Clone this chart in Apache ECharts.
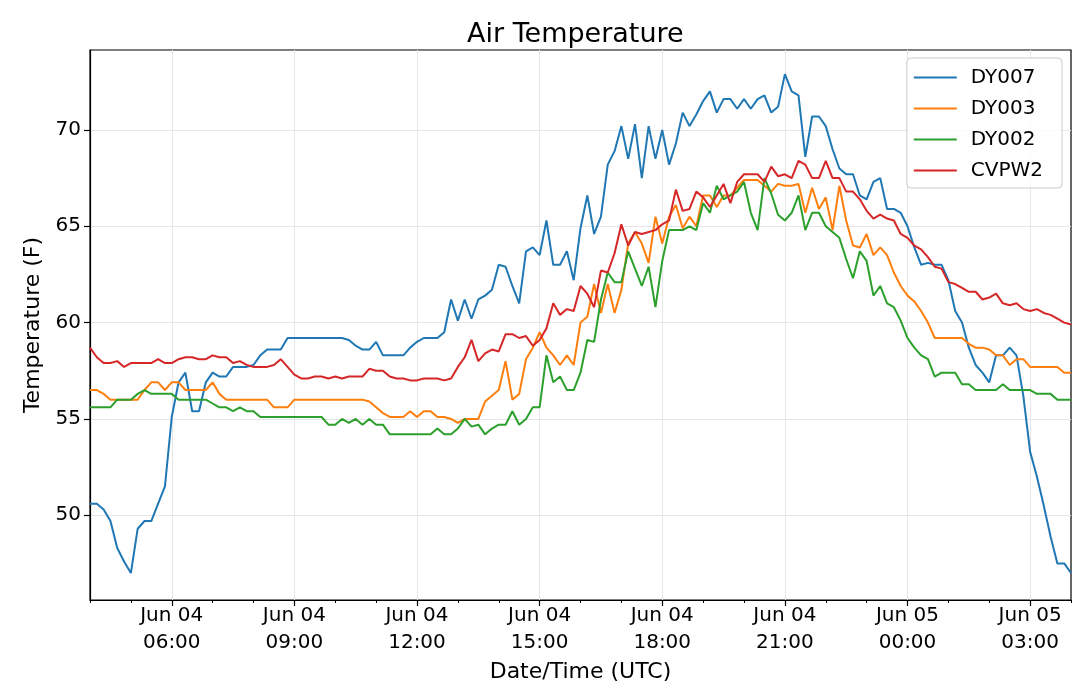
<!DOCTYPE html>
<html>
<head>
<meta charset="utf-8">
<title>Air Temperature</title>
<script src="https://cdn.jsdelivr.net/npm/echarts@6.0.0/dist/echarts.min.js"></script>
<style>
    html, body { margin: 0; padding: 0; background: #fff; }
    #chart-temp { width: 1080px; height: 696px; }
</style>
</head>
<body>
<div id="chart-temp"></div>
<script>
// samples every 10 minutes, first one at Jun 04 04:00 UTC (hours counted from Jun 04 00:00)
var startHour = 4;
var stepHours = 10 / 60;

var dy007 = [
    50.6, 50.6, 50.3, 49.7, 48.3, 47.6, 47.0, 49.3, 49.7, 49.7, 50.6, 51.5,
    55.1, 56.9, 57.4, 55.4, 55.4, 56.9, 57.4, 57.2, 57.2, 57.7, 57.7, 57.7,
    57.8, 58.3, 58.6, 58.6, 58.6, 59.2, 59.2, 59.2, 59.2, 59.2, 59.2, 59.2,
    59.2, 59.2, 59.1, 58.8, 58.6, 58.6, 59.0, 58.3, 58.3, 58.3, 58.3, 58.7,
    59.0, 59.2, 59.2, 59.2, 59.5, 61.2, 60.1, 61.2, 60.2, 61.2, 61.4, 61.7,
    63.0, 62.9, 61.9, 61.0, 63.7, 63.9, 63.5, 65.3, 63.0, 63.0, 63.7, 62.2,
    64.9, 66.6, 64.6, 65.5, 68.2, 68.9, 70.2, 68.5, 70.3, 67.5, 70.2, 68.5,
    70.0, 68.2, 69.3, 70.9, 70.2, 70.8, 71.5, 72.0, 70.9, 71.6, 71.6, 71.1,
    71.6, 71.1, 71.6, 71.8, 70.9, 71.2, 72.9, 72.0, 71.8, 68.6, 70.7, 70.7,
    70.2, 69.0, 68.0, 67.7, 67.7, 66.6, 66.4, 67.3, 67.5, 65.9, 65.9, 65.7,
    65.0, 63.9, 63.0, 63.1, 63.0, 63.0, 62.2, 60.6, 60.0, 58.7, 57.8, 57.4,
    56.9, 58.3, 58.3, 58.7, 58.3, 56.2, 53.3, 52.0, 50.5, 48.9, 47.5, 47.5,
    47.0
];
var dy003 = [
    56.5, 56.5, 56.3, 56.0, 56.0, 56.0, 56.0, 56.0, 56.5, 56.9, 56.9, 56.5,
    56.9, 56.9, 56.5, 56.5, 56.5, 56.5, 56.9, 56.3, 56.0, 56.0, 56.0, 56.0,
    56.0, 56.0, 56.0, 55.6, 55.6, 55.6, 56.0, 56.0, 56.0, 56.0, 56.0, 56.0,
    56.0, 56.0, 56.0, 56.0, 56.0, 55.9, 55.6, 55.3, 55.1, 55.1, 55.1, 55.4,
    55.1, 55.4, 55.4, 55.1, 55.1, 55.0, 54.8, 55.0, 55.0, 55.0, 55.9, 56.2,
    56.5, 58.0, 56.0, 56.3, 58.1, 58.7, 59.5, 58.7, 58.3, 57.8, 58.3, 57.8,
    60.0, 60.3, 62.0, 60.5, 62.0, 60.5, 61.7, 64.1, 64.7, 64.1, 63.1, 65.5,
    64.1, 65.5, 66.1, 64.9, 65.5, 65.0, 66.6, 66.6, 66.0, 66.6, 66.6, 67.0,
    67.4, 67.4, 67.4, 67.1, 66.8, 67.2, 67.1, 67.1, 67.2, 65.7, 67.0, 65.9,
    66.5, 64.8, 67.1, 65.3, 64.0, 63.9, 64.6, 63.5, 63.9, 63.5, 62.6, 61.9,
    61.4, 61.1, 60.6, 60.0, 59.2, 59.2, 59.2, 59.2, 59.2, 58.9, 58.7, 58.7,
    58.6, 58.3, 58.3, 57.8, 58.1, 58.1, 57.7, 57.7, 57.7, 57.7, 57.7, 57.4,
    57.4
];
var dy002 = [
    55.6, 55.6, 55.6, 55.6, 56.0, 56.0, 56.0, 56.3, 56.5, 56.3, 56.3, 56.3,
    56.3, 56.0, 56.0, 56.0, 56.0, 56.0, 55.8, 55.6, 55.6, 55.4, 55.6, 55.4,
    55.4, 55.1, 55.1, 55.1, 55.1, 55.1, 55.1, 55.1, 55.1, 55.1, 55.1, 54.7,
    54.7, 55.0, 54.8, 55.0, 54.7, 55.0, 54.7, 54.7, 54.2, 54.2, 54.2, 54.2,
    54.2, 54.2, 54.2, 54.5, 54.2, 54.2, 54.5, 55.0, 54.6, 54.7, 54.2, 54.5,
    54.7, 54.7, 55.4, 54.7, 55.0, 55.6, 55.6, 58.3, 56.9, 57.2, 56.5, 56.5,
    57.4, 59.1, 59.0, 61.2, 62.6, 62.1, 62.1, 63.7, 62.8, 61.9, 62.9, 60.8,
    63.2, 64.8, 64.8, 64.8, 65.0, 64.8, 66.2, 65.7, 67.1, 66.4, 66.6, 66.8,
    67.3, 65.7, 64.8, 67.5, 66.7, 65.6, 65.3, 65.7, 66.6, 64.8, 65.7, 65.7,
    65.0, 64.7, 64.4, 63.3, 62.3, 63.7, 63.2, 61.4, 61.9, 61.0, 60.8, 60.1,
    59.2, 58.7, 58.3, 58.1, 57.2, 57.4, 57.4, 57.4, 56.8, 56.8, 56.5, 56.5,
    56.5, 56.5, 56.8, 56.5, 56.5, 56.5, 56.5, 56.3, 56.3, 56.3, 56.0, 56.0,
    56.0
];
var cvpw2 = [
    58.7, 58.2, 57.9, 57.9, 58.0, 57.7, 57.9, 57.9, 57.9, 57.9, 58.1, 57.9,
    57.9, 58.1, 58.2, 58.2, 58.1, 58.1, 58.3, 58.2, 58.2, 57.9, 58.0, 57.8,
    57.7, 57.7, 57.7, 57.8, 58.1, 57.7, 57.3, 57.1, 57.1, 57.2, 57.2, 57.1,
    57.2, 57.1, 57.2, 57.2, 57.2, 57.6, 57.5, 57.5, 57.2, 57.1, 57.1, 57.0,
    57.0, 57.1, 57.1, 57.1, 57.0, 57.1, 57.7, 58.2, 59.1, 58.0, 58.4, 58.6,
    58.5, 59.4, 59.4, 59.2, 59.3, 58.8, 59.1, 59.7, 61.0, 60.4, 60.7, 60.6,
    61.9, 61.5, 60.8, 62.7, 62.6, 63.6, 65.1, 64.0, 64.7, 64.6, 64.7, 64.8,
    65.1, 65.3, 66.9, 65.8, 65.9, 66.8, 66.5, 66.0, 66.6, 67.2, 66.2, 67.3,
    67.7, 67.7, 67.7, 67.3, 68.1, 67.6, 67.7, 67.5, 68.4, 68.2, 67.5, 67.5,
    68.4, 67.5, 67.5, 66.8, 66.8, 66.4, 65.8, 65.4, 65.6, 65.4, 65.3, 64.6,
    64.4, 64.0, 63.8, 63.4, 62.9, 62.8, 62.1, 62.0, 61.8, 61.6, 61.6, 61.2,
    61.3, 61.5, 61.0, 60.9, 61.0, 60.7, 60.6, 60.7, 60.5, 60.4, 60.2, 60.0,
    59.9
];

var seriesNames = ['DY007', 'DY003', 'DY002', 'CVPW2'];
var seriesColors = ['#1f77b4', '#ff7f0e', '#2ca02c', '#d62728'];
var xTicks = [6, 9, 12, 15, 18, 21, 24, 27];
var yTicks = [50, 55, 60, 65, 70];

var fontName = 'DejaVu Sans';

function toPoints(values) {
    var pts = [];
    for (var i = 0; i < values.length; i++) {
        pts.push([startHour + i * stepHours, values[i]]);
    }
    return pts;
}

function timeLabel(v) {
    var h = Math.round(v);
    var day = h >= 24 ? 'Jun 05' : 'Jun 04';
    h = h % 24;
    return day + '\n' + (h < 10 ? '0' + h : h) + ':00';
}

var chart = echarts.init(document.getElementById('chart-temp'), null, { renderer: 'canvas' });

var allValues = [dy007, dy003, dy002, cvpw2];
var series = [];
for (var s = 0; s < allValues.length; s++) {
    series.push({
        name: seriesNames[s],
        type: 'line',
        xAxisIndex: 0,
        data: toPoints(allValues[s]),
        symbol: 'none',
        showSymbol: false,
        lineStyle: { color: seriesColors[s], width: 2 },
        itemStyle: { color: seriesColors[s] }
    });
}

var option = {
    animation: false,
    backgroundColor: '#fff',
    textStyle: { fontFamily: fontName, color: '#000' },
    title: {
        text: 'Air Temperature',
        left: 467,
        top: 19,
        padding: 0,
        textStyle: { fontFamily: fontName, fontSize: 27, fontWeight: 'normal', color: '#000', lineHeight: 32 }
    },
    legend: {
        data: seriesNames,
        orient: 'vertical',
        right: 18,
        top: 58,
        icon: 'rect',
        itemWidth: 43,
        itemHeight: 2,
        itemGap: 10,
        padding: [9, 19, 7, 7],
        backgroundColor: 'rgba(255,255,255,0.8)',
        borderColor: '#cccccc',
        borderWidth: 1,
        borderRadius: 4,
        textStyle: { fontFamily: fontName, fontSize: 20, color: '#000', lineHeight: 21, padding: [0, 0, 0, 9] }
    },
    grid: {
        left: 90,
        right: 9,
        top: 50,
        bottom: 96,
        show: true,
        borderColor: '#000',
        borderWidth: 1.2,
        backgroundColor: 'transparent'
    },
    xAxis: [{
        type: 'value',
        min: 4,
        max: 28,
        name: 'Date/Time (UTC)',
        nameLocation: 'middle',
        nameGap: 49,
        nameTextStyle: { fontFamily: fontName, fontSize: 22, color: '#000' },
        axisLine: { show: true, onZero: false, lineStyle: { color: '#000', width: 1.2 } },
        axisTick: { show: true, length: 6, customValues: xTicks, lineStyle: { color: '#000', width: 1.2 } },
        axisLabel: {
            customValues: xTicks,
            formatter: timeLabel,
            fontFamily: fontName,
            fontSize: 20,
            lineHeight: 27,
            margin: 2,
            color: '#000'
        },
        splitLine: { show: true, lineStyle: { color: '#e6e6e6', width: 1 } }
    }, {
        // hourly minor ticks
        type: 'value',
        min: 4,
        max: 28,
        interval: 1,
        position: 'bottom',
        axisLine: { show: false },
        axisTick: { show: true, length: 3, lineStyle: { color: '#000', width: 1 } },
        axisLabel: { show: false },
        splitLine: { show: false }
    }],
    yAxis: {
        type: 'value',
        min: 45.6,
        max: 74.15,
        name: 'Temperature (F)',
        nameLocation: 'middle',
        nameGap: 44,
        nameTextStyle: { fontFamily: fontName, fontSize: 22, color: '#000' },
        axisLine: { show: true, lineStyle: { color: '#000', width: 1.2 } },
        axisTick: { show: true, length: 6, customValues: yTicks, lineStyle: { color: '#000', width: 1.2 } },
        axisLabel: {
            customValues: yTicks,
            fontFamily: fontName,
            fontSize: 20,
            margin: 9,
            color: '#000'
        },
        splitLine: { show: true, lineStyle: { color: '#e6e6e6', width: 1 } }
    },
    series: series
};

chart.setOption(option);

window.onresize = function () {
    chart.resize();
};
</script>
</body>
</html>
